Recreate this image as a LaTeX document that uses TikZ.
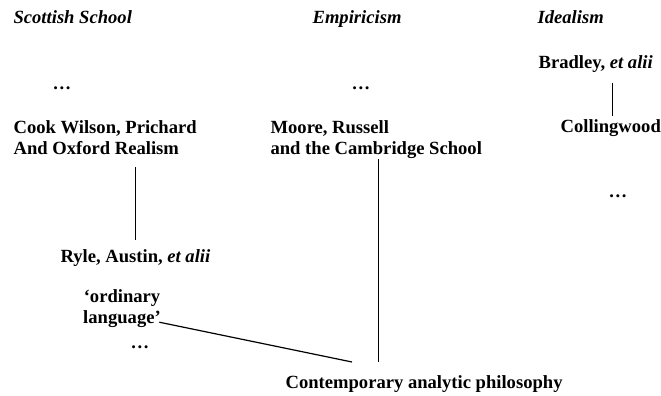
\documentclass[tikz,border=0pt]{standalone}
\usepackage{fontspec}
\setmainfont{Liberation Serif}

\begin{document}
\begin{tikzpicture}[x=1pt, y=-1pt, line width=1.2pt,
    lbl/.style={font=\fontsize{18.6}{21}\selectfont\bfseries, inner sep=0pt},
    head/.style={lbl, font=\fontsize{18.6}{21}\selectfont\bfseries\itshape}]
    \useasboundingbox (0,0) rectangle (661,396);

    % the three traditions
    \node[head, anchor=base west] (scot) at (13,24) {Scottish School};
    \node[head, anchor=base west] (emp) at (312,24) {Empiricism};
    \node[head, anchor=base west] (ideal) at (537,24) {Idealism};

    \node[lbl, anchor=base west] (scotdots) at (52,89) {\dots};
    \node[lbl, anchor=base west] (empdots) at (351,89) {\dots};
    \node[lbl, anchor=base west] (brad) at (538,68) {Bradley, \textit{et alii}};
    \node[lbl, anchor=base west] (coll) at (560,132) {Collingwood};
    \node[lbl, anchor=base west] (idealdots) at (608,197) {\dots};

    \node[lbl, anchor=north west, align=left] (cook) at (13,120)
        {Cook Wilson, Prichard\\And Oxford Realism};
    \node[lbl, anchor=north west, align=left] (moore) at (270,120)
        {Moore, Russell\\and the Cambridge School};

    \node[lbl, anchor=base west] (ryle) at (60,262) {Ryle, Austin, \textit{et alii}};
    \node[lbl, anchor=north, align=center] (ord) at (122,289)
        {`ordinary\\language'};
    \node[lbl, anchor=base west] (orddots) at (130,348) {\dots};

    \node[lbl, anchor=base west] (phil) at (285,388) {Contemporary analytic philosophy};

    % connectors
    \draw[shorten <=10pt, shorten >=2.4pt] ([xshift=17pt]brad.south) -- ([xshift=17pt]brad.south |- coll.north);
    \draw[shorten <=12pt, shorten >=8pt] (ryle.north |- cook.south) -- (ryle.north);
    \draw[shorten >=12pt] ([xshift=-45.5pt]phil.north |- moore.south) -- ([xshift=-45.5pt]phil.north);
    \draw ([xshift=-2pt,yshift=6pt]ord.south east) -- ([xshift=67pt,yshift=12.5pt]phil.north west);
\end{tikzpicture}
\end{document}
